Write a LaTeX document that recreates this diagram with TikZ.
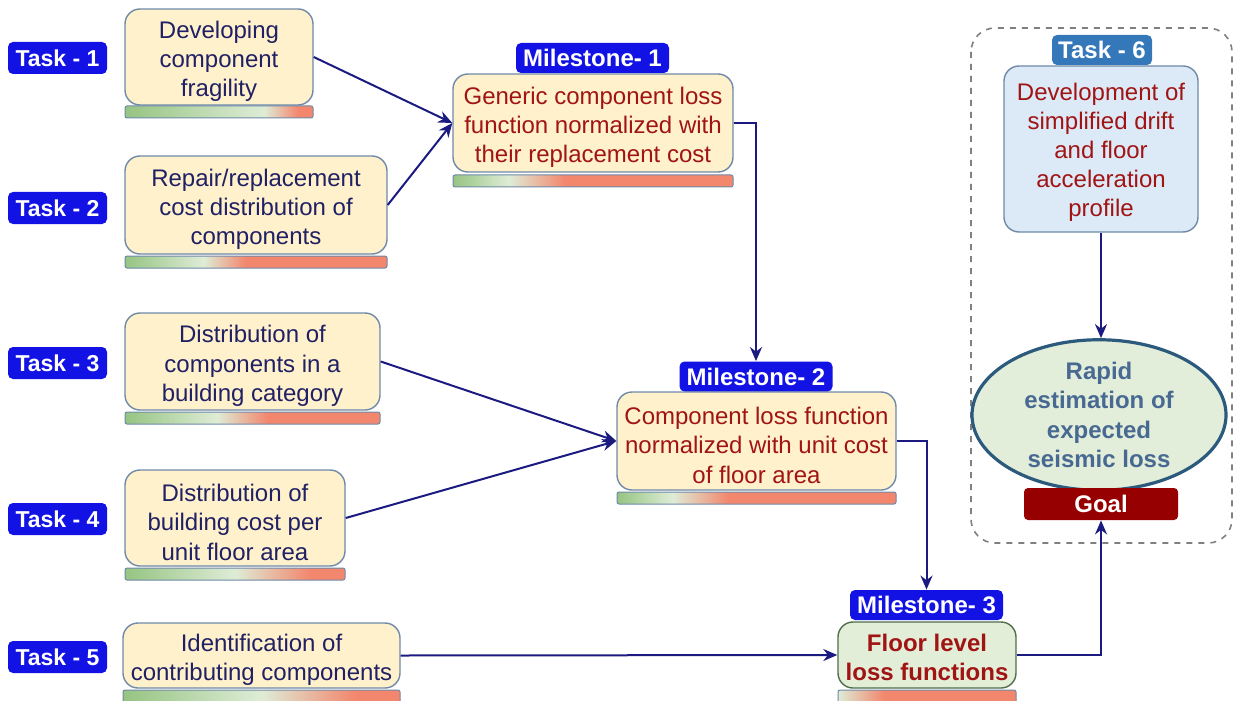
\documentclass[tikz,border=0pt]{standalone}
\usepackage{fontspec}
\setmainfont{Liberation Sans}
\usetikzlibrary{arrows.meta,shapes.geometric}
\definecolor{tblue}{RGB}{18,18,228}
\definecolor{t6blue}{RGB}{52,120,185}
\definecolor{cream}{RGB}{255,241,204}
\definecolor{bborder}{RGB}{110,138,168}
\definecolor{navytext}{RGB}{32,32,100}
\definecolor{arrowc}{RGB}{26,26,128}
\definecolor{dred}{RGB}{160,20,20}
\definecolor{mgreen}{RGB}{226,238,216}
\definecolor{mgborder}{RGB}{80,110,75}
\definecolor{lblue}{RGB}{220,233,246}
\definecolor{ellfill}{RGB}{226,238,218}
\definecolor{ellborder}{RGB}{44,90,125}
\definecolor{elltext}{RGB}{72,105,145}
\definecolor{goalred}{RGB}{150,0,0}
\definecolor{bgreen}{RGB}{150,196,130}
\definecolor{bpale}{RGB}{222,236,214}
\definecolor{bred}{RGB}{242,135,110}
\pgfdeclarehorizontalshading{barA}{100bp}{color(0bp)=(bgreen); color(25bp)=(bgreen); color(62bp)=(bpale); color(71bp)=(bred); color(100bp)=(bred)}
\pgfdeclarehorizontalshading{barB}{100bp}{color(0bp)=(bgreen); color(25bp)=(bgreen); color(40bp)=(bpale); color(48bp)=(bred); color(100bp)=(bred)}
\pgfdeclarehorizontalshading{barC}{100bp}{color(0bp)=(bgreen); color(25bp)=(bgreen); color(43bp)=(bpale); color(53bp)=(bred); color(100bp)=(bred)}
\pgfdeclarehorizontalshading{barD}{100bp}{color(0bp)=(bgreen); color(25bp)=(bgreen); color(50bp)=(bpale); color(67bp)=(bred); color(100bp)=(bred)}
\pgfdeclarehorizontalshading{barE}{100bp}{color(0bp)=(bgreen); color(25bp)=(bgreen); color(35bp)=(bpale); color(45bp)=(bred); color(100bp)=(bred)}
\pgfdeclarehorizontalshading{barF}{100bp}{color(0bp)=(bpale); color(25bp)=(bpale); color(38bp)=(bred); color(100bp)=(bred)}
\newcommand{\toprl}{\rule{0pt}{13pt}}
\begin{document}
\begin{tikzpicture}[x=0.5pt,y=-0.5pt,
  tasklab/.style={fill=tblue, text=white, font=\fontsize{11.5}{14}\selectfont\bfseries, rounded corners=2.5pt, minimum width=49.5pt, minimum height=16pt, inner sep=0pt},
  mlab/.style={tasklab, minimum width=76.5pt, minimum height=15pt, font=\fontsize{12}{14}\selectfont\bfseries},
  box/.style={draw=bborder, fill=cream, rounded corners=7.5pt, line width=0.7pt, align=center, inner sep=0pt, text=navytext, font=\fontsize{12}{14.6}\selectfont},
  mbox/.style={box, text=dred},
  bar/.style={draw=bborder, line width=0.5pt, rounded corners=1pt, shade},
  conn/.style={draw=arrowc, line width=1pt, -{Stealth[length=7pt,width=6pt]}}
]
\useasboundingbox (0,0) rectangle (1234,700);

% Task labels
\node[tasklab] (t1) at (57.5,58) {Task - 1};
\node[tasklab] (t2) at (57.5,208) {Task - 2};
\node[tasklab] (t3) at (57.5,363) {Task - 3};
\node[tasklab] (t4) at (57.5,519) {Task - 4};
\node[tasklab] (t5) at (57.5,657) {Task - 5};

% Task boxes
\node[box, minimum width=94pt, minimum height=48pt] (b1) at (219,57) {\toprl Developing\\component\\fragility};
\path[bar, shading=barA] (125,106) rectangle (313,118);
\node[box, minimum width=131pt, minimum height=49pt] (b2) at (256,205) {\toprl Repair/replacement\\cost distribution of\\components};
\path[bar, shading=barB] (125,256) rectangle (387,268);
\node[box, minimum width=127.5pt, minimum height=48.5pt] (b3) at (252.5,361.5) {\toprl Distribution of\\components in a\\building category};
\path[bar, shading=barC] (125,412) rectangle (380,424);
\node[box, minimum width=110pt, minimum height=48pt] (b4) at (235,518) {\toprl Distribution of\\building cost per\\unit floor area};
\path[bar, shading=barD] (125,568) rectangle (345,580);
\node[box, minimum width=138.5pt, minimum height=32.5pt] (b5) at (261.5,655.5) {\toprl Identification of\\contributing components};
\path[bar, shading=barD] (123,690) rectangle (400,703);

% Milestones
\node[mlab] (m1lab) at (592.5,58) {Milestone- 1};
\node[mbox, minimum width=140pt, minimum height=49pt] (m1) at (593,123) {\toprl Generic component loss\\function normalized with\\their replacement cost};
\path[bar, shading=barE] (453,175) rectangle (733,187);
\node[mlab] (m2lab) at (756,376.5) {Milestone- 2};
\node[mbox, minimum width=139.5pt, minimum height=49pt] (m2) at (756.5,441) {\toprl Component loss function\\normalized with unit cost\\of floor area};
\path[bar, shading=barE] (617,492) rectangle (896,504);
\node[mlab] (m3lab) at (926.5,605) {Milestone- 3};
\node[mbox, fill=mgreen, draw=mgborder, minimum width=89pt, minimum height=33pt, font=\fontsize{12}{14.6}\selectfont\bfseries] (m3) at (927,655) {\rule{0pt}{11pt}Floor level\\loss functions};
\path[bar, shading=barF] (838,690) rectangle (1016,703);

% Task 6 group
\draw[gray, dashed, line width=0.8pt, rounded corners=12pt] (971,28) rectangle (1232,543);
\node[tasklab, fill=t6blue, minimum width=50pt, minimum height=15pt, font=\fontsize{12}{14}\selectfont\bfseries] (t6) at (1102,50) {Task - 6};
\node[mbox, fill=lblue, minimum width=97pt, minimum height=83pt] (t6box) at (1101,149) {\rule{0pt}{12pt}Development of\\simplified drift\\and floor\\acceleration\\profile};
\node[ellipse, draw=ellborder, line width=1.6pt, fill=ellfill, minimum width=127pt, minimum height=72pt, inner sep=0pt, align=center, text=elltext, font=\fontsize{12}{14.8}\selectfont\bfseries] (ell) at (1099,415) {Rapid\\estimation of\\expected\\seismic loss};
\node[fill=goalred, text=white, rounded corners=2pt, minimum width=77pt, minimum height=16pt, inner sep=0pt, font=\fontsize{12}{14}\selectfont\bfseries] (goal) at (1101,504) {Goal};

% Connectors
\draw[conn] (b1.east) -- (m1.west);
\draw[conn] (b2.east) -- (m1.west);
\draw[conn] (m1.east) -| (m2lab.north);
\draw[conn] (b3.east) -- (m2.west);
\draw[conn] (b4.east) -- (m2.west);
\draw[conn] (m2.east) -| (m3lab.north);
\draw[conn] (b5.east) -- (m3.west);
\draw[conn] (m3.east) -| (goal.south);
\draw[conn] (t6box.south) -- (t6box.south |- ell.north);
\end{tikzpicture}
\end{document}
